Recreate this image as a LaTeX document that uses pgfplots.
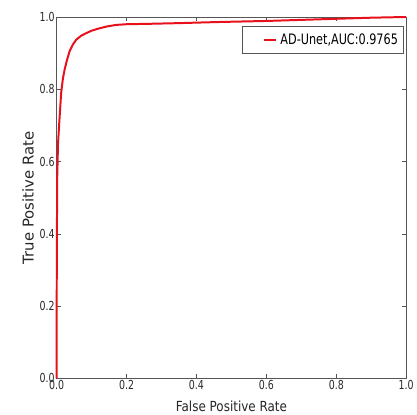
\documentclass[border=0pt]{standalone}
\usepackage{fontspec}
\setmainfont[FakeStretch=0.76]{DejaVu Sans}
\newfontfamily\labfont[FakeStretch=0.86]{DejaVu Sans}
\newfontfamily\legfont[FakeStretch=0.78]{DejaVu Sans}
\newfontfamily\ylfont{DejaVu Sans}
\usepackage{pgfplots}
\pgfplotsset{compat=1.18}
\definecolor{axgray}{HTML}{555555}
\definecolor{txtgray}{HTML}{2A2A2A}
\definecolor{rocred}{HTML}{E8101A}

\begin{document}
\begin{tikzpicture}[font=\fontsize{11}{13}\selectfont]
\begin{axis}[
    scale only axis,
    width=352pt, height=364pt,
    xmin=0, xmax=1, ymin=0, ymax=1,
    xtick={0,0.2,0.4,0.6,0.8,1.0},
    ytick={0,0.2,0.4,0.6,0.8,1.0},
    /pgf/number format/assume math mode=true,
    /pgf/number format/fixed,
    /pgf/number format/fixed zerofill,
    /pgf/number format/precision=1,
    tick align=inside,
    major tick length=4pt,
    axis line style={axgray, line width=0.9pt},
    tick style={axgray, line width=0.7pt},
    ticklabel style={txtgray, font=\fontsize{12.5}{14}\selectfont},
    xticklabel style={yshift=1.5pt},
    yticklabel style={xshift=1.5pt},
    xlabel={False Positive Rate},
    ylabel={True Positive Rate},
    xlabel style={font=\labfont\fontsize{14}{16}\selectfont, black!85,
      at={(axis description cs:0.5,-0.077)}, anchor=center},
    ylabel style={font=\ylfont\fontsize{15}{17}\selectfont, black!85,
      at={(axis description cs:-0.082,0.5)}, anchor=center},
    legend style={
      at={(rel axis cs:0.9915,0.9755)}, anchor=north east,
      draw=axgray, line width=0.7pt, inner xsep=3pt, inner ysep=5.5pt,
      font=\legfont\fontsize{14.5}{17}\selectfont,
    },
    legend image code/.code={\path[draw=none] (-10pt,0pt) -- (23pt,0pt);
      \draw[#1] (8pt,0pt) -- (21pt,0pt);},
    clip=false,
]

\addplot[rocred, line width=2pt, line join=round] coordinates {
  (0,0) (0.0004,0.30) (0.0015,0.55) (0.004,0.65) (0.008,0.715)
  (0.013,0.79) (0.018,0.83) (0.023,0.855) (0.030,0.882) (0.037,0.905)
  (0.046,0.923) (0.056,0.937) (0.070,0.948) (0.084,0.955) (0.10,0.962)
  (0.12,0.968) (0.145,0.974) (0.17,0.978) (0.20,0.980) (0.26,0.981)
  (0.35,0.983) (0.46,0.986) (0.60,0.989) (0.80,0.995) (0.90,0.998) (1,1)
};
\addlegendentry{AD-Unet,AUC:0.9765}

\path (rel axis cs:-0.162,-0.099) rectangle (rel axis cs:1.020,1.047);
\end{axis}
\end{tikzpicture}
\end{document}
